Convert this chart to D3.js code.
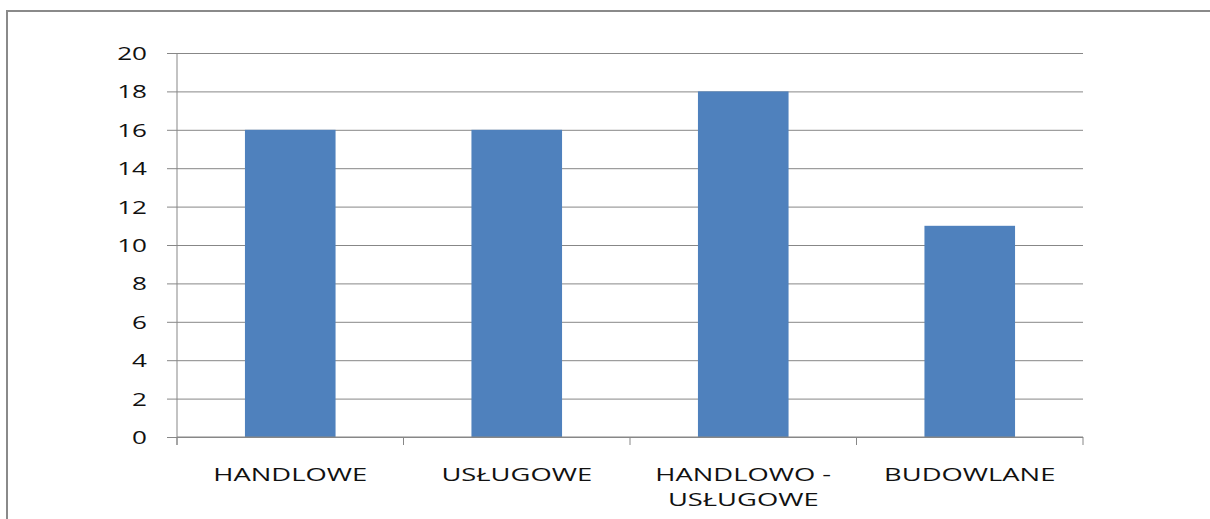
<!DOCTYPE html>
<html>
<head>
<meta charset="utf-8">
<script src="https://cdn.jsdelivr.net/npm/d3@7/dist/d3.min.js"></script>
<style>
  html, body { margin: 0; padding: 0; background: #fff; overflow: hidden; }
  svg { display: block; }
  text { font-family: "Open Sans", "DejaVu Sans", sans-serif; fill: #111; }
</style>
</head>
<body>
<svg id="chart" width="1210" height="519"></svg>
<script>
const categories = [["HANDLOWE"], ["USŁUGOWE"], ["HANDLOWO -", "USŁUGOWE"], ["BUDOWLANE"]];
const categoryKeys = ["HANDLOWE", "USŁUGOWE", "HANDLOWO - USŁUGOWE", "BUDOWLANE"];
const values = [16, 16, 18, 11];
const yTicks = [0, 2, 4, 6, 8, 10, 12, 14, 16, 18, 20];

const W = 1210, H = 519;
const plot = { left: 177, right: 1083, top: 53, bottom: 437 };
const sxY = 1.45;      // horizontal stretch of the original text
const sxX = 1.52;
const fontSize = 18;

const svg = d3.select("#chart");

// outer frame
svg.append("rect")
  .attr("x", 7).attr("y", 11)
  .attr("width", 1400).attr("height", 700)
  .attr("fill", "none").attr("stroke", "#8a8a8a").attr("stroke-width", 2);

const x = d3.scaleBand()
  .domain(categoryKeys)
  .range([plot.left, plot.right])
  .paddingInner(0.6).paddingOuter(0.3);

const y = d3.scaleLinear().domain([0, 20]).range([plot.bottom, plot.top]);

// gridlines + y ticks
const yAxis = d3.axisLeft(y)
  .tickValues(yTicks)
  .tickSize(-(plot.right - plot.left))
  .tickSizeOuter(0)
  .tickPadding(0);

const gy = svg.append("g")
  .attr("transform", `translate(${plot.left},0)`)
  .call(yAxis);
gy.select(".domain").remove();
gy.selectAll(".tick line")
  .attr("x1", -10)
  .attr("stroke", "#878787").attr("stroke-width", 1);
gy.selectAll(".tick text")
  .attr("x", 0).attr("dy", "0.36em")
  .attr("transform", `translate(-30,0) scale(${sxY},1)`)
  .style("font-size", fontSize + "px")
  .attr("text-anchor", "end")
  .attr("fill", "#111");

// bars
svg.append("g").selectAll("rect")
  .data(values)
  .join("rect")
  .attr("x", (d, i) => x(categoryKeys[i]))
  .attr("width", x.bandwidth())
  .attr("y", d => y(d))
  .attr("height", d => y(0) - y(d))
  .attr("fill", "#4f81bd");

// y axis line
svg.append("line")
  .attr("x1", plot.left).attr("x2", plot.left)
  .attr("y1", plot.top).attr("y2", plot.bottom + 8)
  .attr("stroke", "#878787").attr("stroke-width", 1);

// x axis line and category ticks
svg.append("line")
  .attr("x1", plot.left).attr("x2", plot.right)
  .attr("y1", plot.bottom).attr("y2", plot.bottom)
  .attr("stroke", "#878787").attr("stroke-width", 1);

const step = x.step();
const bnd = [plot.left];
categoryKeys.forEach((k, i) => bnd.push(plot.left + step * (i + 1)));
svg.append("g").selectAll("line")
  .data(bnd)
  .join("line")
  .attr("x1", d => d).attr("x2", d => d)
  .attr("y1", plot.bottom).attr("y2", plot.bottom + 8)
  .attr("stroke", "#878787").attr("stroke-width", 1);

// category labels
const lab = svg.append("g").selectAll("g")
  .data(categories)
  .join("g")
  .attr("transform", (d, i) => `translate(${x(categoryKeys[i]) + x.bandwidth() / 2},481) scale(${sxX},1)`);
lab.selectAll("text")
  .data(d => d)
  .join("text")
  .attr("x", 0)
  .attr("y", (d, j) => j * 25)
  .attr("text-anchor", "middle")
  .style("font-size", fontSize + "px")
  .text(d => d);
</script>
</body>
</html>
